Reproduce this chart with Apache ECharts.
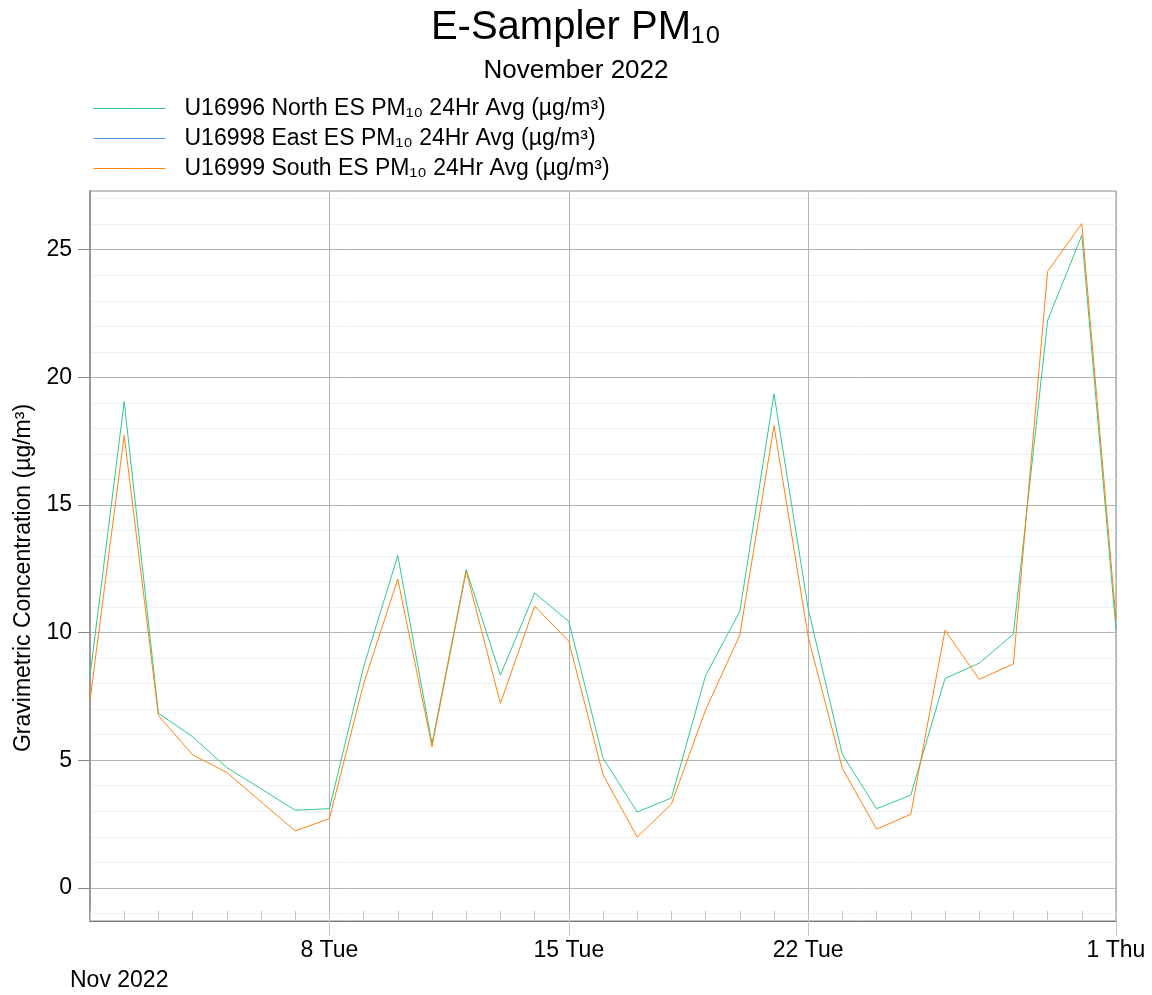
<!DOCTYPE html>
<html>
<head>
<meta charset="utf-8">
<script src="https://cdn.jsdelivr.net/npm/echarts@6/dist/echarts.min.js"></script>
<style>
  html, body { margin: 0; padding: 0; background: #fff; }
  #chart { width: 1152px; height: 995px; }
</style>
</head>
<body>
<div id="chart"></div>
<script>
// daily 24hr averages, Nov 1 .. Dec 1 2022
var days = [
  '2022-11-01', '2022-11-02', '2022-11-03', '2022-11-04', '2022-11-05', '2022-11-06',
  '2022-11-07', '2022-11-08', '2022-11-09', '2022-11-10', '2022-11-11', '2022-11-12',
  '2022-11-13', '2022-11-14', '2022-11-15', '2022-11-16', '2022-11-17', '2022-11-18',
  '2022-11-19', '2022-11-20', '2022-11-21', '2022-11-22', '2022-11-23', '2022-11-24',
  '2022-11-25', '2022-11-26', '2022-11-27', '2022-11-28', '2022-11-29', '2022-11-30',
  '2022-12-01'
];
var northValues = [
  8.3, 19.05, 6.84, 5.92, 4.71, 3.88, 3.04, 3.1, 8.65, 13.02, 5.65,
  12.47, 8.33, 11.55, 10.44, 5.08, 2.97, 3.52, 8.31, 10.83, 19.35,
  10.94, 5.22, 3.1, 3.63, 8.2, 8.8, 9.94, 22.23, 25.56, 10.1
];
var eastValues = [];
var southValues = [
  7.35, 17.73, 6.75, 5.21, 4.52, 3.37, 2.23, 2.71, 7.99, 12.1, 5.53,
  12.4, 7.23, 11.04, 9.66, 4.43, 1.99, 3.28, 6.97, 9.9, 18.1,
  9.83, 4.67, 2.3, 2.88, 10.09, 8.17, 8.77, 24.15, 26.02, 10.5
];
var weekTicks = ['2022-11-08', '2022-11-15', '2022-11-22', '2022-12-01'];
var yTicks = [0, 5, 10, 15, 20, 25];
var seriesNames = [
  'U16996 North ES PM\u2081\u2080 24Hr Avg (\u00b5g/m\u00b3)',
  'U16998 East ES PM\u2081\u2080 24Hr Avg (\u00b5g/m\u00b3)',
  'U16999 South ES PM\u2081\u2080 24Hr Avg (\u00b5g/m\u00b3)'
];
var weekDays = ['Sun', 'Mon', 'Tue', 'Wed', 'Thu', 'Fri', 'Sat'];

function toTime(s) {
  var p = s.split('-');
  return new Date(+p[0], +p[1] - 1, +p[2]).getTime();
}
function pairs(vals) {
  return vals.map(function (v, i) { return [toTime(days[i]), v]; });
}

var font = 'Liberation Sans, Arial, sans-serif';
var chart = echarts.init(document.getElementById('chart'));
var tMin = toTime(days[0]);
var tMax = toTime(days[days.length - 1]);

var option = {
  animation: false,
  backgroundColor: '#fff',
  textStyle: { fontFamily: font },
  title: {
    text: 'E-Sampler PM\u2081\u2080',
    subtext: 'November 2022',
    left: 'center',
    top: 3,
    itemGap: 10,
    textStyle: { fontSize: 40, fontWeight: 'normal', color: '#000', fontFamily: font },
    subtextStyle: { fontSize: 26, color: '#000', fontFamily: font }
  },
  legend: {
    orient: 'vertical',
    left: 88,
    top: 92,
    itemWidth: 72,
    itemHeight: 2,
    itemGap: 7,
    selectedMode: false,
    lineStyle: { width: 1 },
    textStyle: { fontSize: 23, color: '#000', fontFamily: font, padding: [0, 0, 0, 14] },
    data: seriesNames
  },
  grid: {
    left: 90,
    right: 36,
    top: 191,
    bottom: 74,
    show: true,
    borderColor: '#888',
    borderWidth: 1
  },
  xAxis: [
    {
      type: 'value',
      position: 'bottom',
      min: tMin,
      max: tMax,
      axisLine: { show: true, onZero: false, lineStyle: { color: '#777', width: 1 } },
      axisTick: {
        show: true,
        inside: true,
        length: 10,
        customValues: days.map(toTime),
        lineStyle: { color: '#c4c4c4' }
      },
      axisLabel: { show: false },
      splitLine: { show: false }
    },
    {
      type: 'value',
      position: 'bottom',
      offset: 0,
      min: tMin,
      max: tMax,
      axisLine: { show: false, onZero: false },
      axisTick: {
        show: true,
        inside: false,
        length: 15,
        customValues: weekTicks.map(toTime),
        lineStyle: { color: '#c4c4c4' }
      },
      axisLabel: {
        show: true,
        customValues: weekTicks.map(toTime),
        fontSize: 23,
        color: '#000',
        margin: 18,
        formatter: function (v) {
          var d = new Date(v);
          return d.getDate() + ' ' + weekDays[d.getDay()];
        }
      },
      splitLine: { show: true, lineStyle: { color: '#b4b4b4', width: 1 } }
    }
  ],
  yAxis: {
    type: 'value',
    min: -1.3,
    max: 27.3,
    name: 'Gravimetric Concentration (\u00b5g/m\u00b3)',
    nameLocation: 'middle',
    nameGap: 55,
    nameTextStyle: { fontSize: 23, color: '#000', fontFamily: font, padding: [0, 44, 0, 0] },
    axisLine: { show: true, onZero: false, lineStyle: { color: '#999', width: 2 } },
    axisTick: {
      show: true,
      length: 12,
      customValues: yTicks,
      lineStyle: { color: '#888' }
    },
    axisLabel: {
      customValues: yTicks,
      fontSize: 23,
      color: '#000',
      margin: 18
    },
    splitLine: { show: true, lineStyle: { color: '#b4b4b4', width: 1 } },
    minorTick: { show: false, splitNumber: 5 },
    minorSplitLine: { show: true, lineStyle: { color: '#f0f0f0', width: 1 } }
  },
  series: [
    {
      name: seriesNames[0],
      type: 'line',
      xAxisIndex: 0,
      symbol: 'none',
      color: '#33c98a',
      lineStyle: { width: 1, color: '#33c98a' },
      data: pairs(northValues)
    },
    {
      name: seriesNames[1],
      type: 'line',
      xAxisIndex: 0,
      symbol: 'none',
      color: '#4a98e8',
      lineStyle: { width: 1, color: '#4a98e8' },
      data: pairs(eastValues)
    },
    {
      name: seriesNames[2],
      type: 'line',
      xAxisIndex: 0,
      symbol: 'none',
      color: '#ff8410',
      lineStyle: { width: 1, color: '#ff8410' },
      data: pairs(southValues)
    }
  ],
  graphic: [
    {
      type: 'text',
      left: 70,
      top: 969,
      style: { text: 'Nov 2022', fontSize: 23, fill: '#000', fontFamily: font }
    }
  ]
};

chart.setOption(option);
</script>
</body>
</html>
